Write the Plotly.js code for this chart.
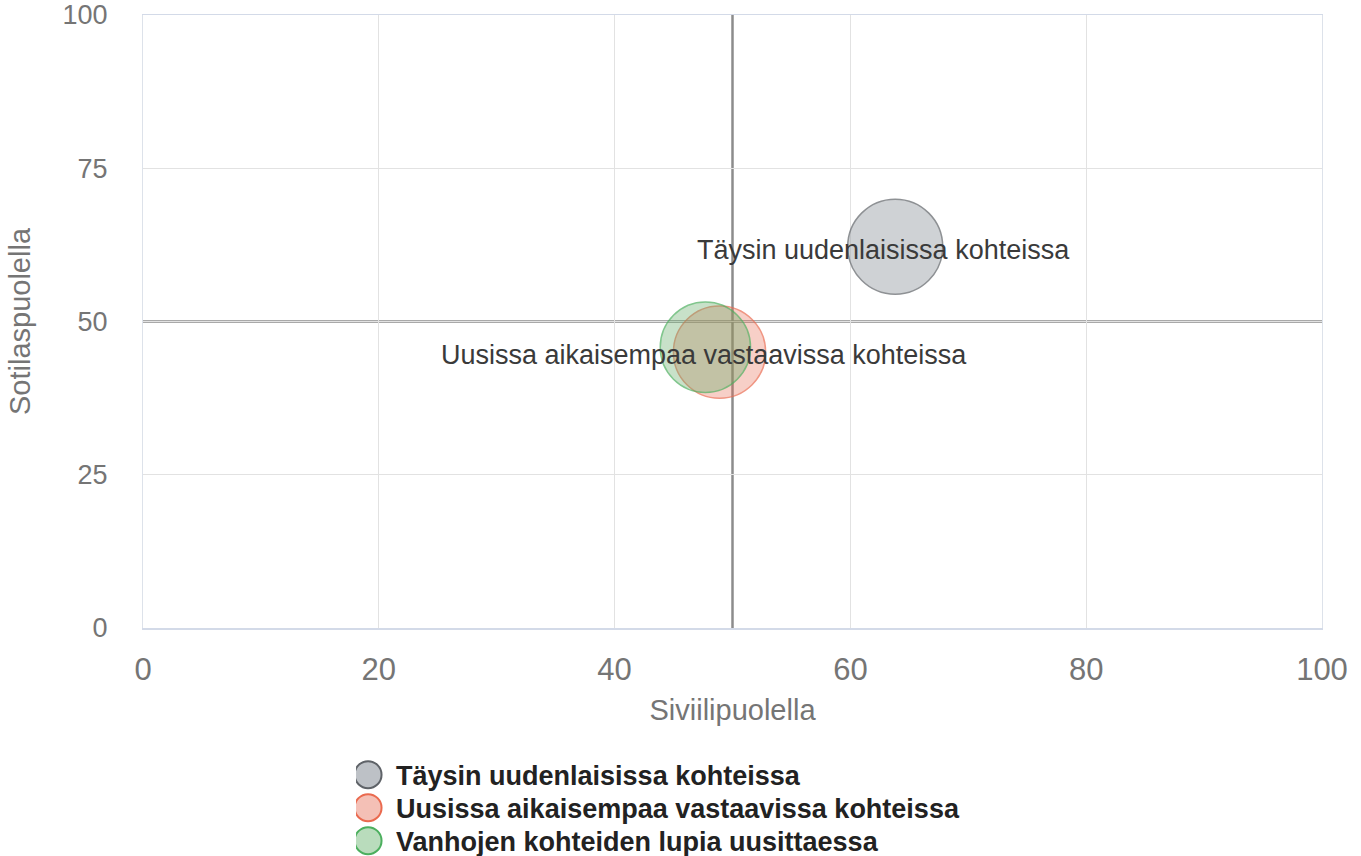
<!DOCTYPE html>
<html>
<head>
<meta charset="utf-8">
<script src="https://cdn.plot.ly/plotly-3.0.1.min.js"></script>
<style>html,body{margin:0;padding:0;background:#fff;}#chart{width:1361px;height:856px;}</style>
</head>
<body>
<div id="chart"></div>
<script>
// Data
const seriesNames = ["Täysin uudenlaisissa kohteissa", "Uusissa aikaisempaa vastaavissa kohteissa", "Vanhojen kohteiden lupia uusittaessa"];
const siviili = [63.8, 48.9, 47.7];    // x: Siviilipuolella
const sotilas = [62.2, 45.0, 45.8];    // y: Sotilaspuolella
const bubbleSize = [10, 9.7, 9.5];
const pointLabels = ["Täysin uudenlaisissa kohteissa", "Uusissa aikaisempaa vastaavissa kohteissa", ""];
const xTicks = [0, 20, 40, 60, 80, 100];
const yTicks = [0, 25, 50, 75, 100];
const midX = 50, midY = 50;

// Styles
const fills = ["rgba(150,156,162,0.64)", "rgba(232,104,80,0.45)", "rgba(100,172,104,0.5)"];
const borders = ["#5f6368", "#ea6a4f", "#4caf5e"];
const legendFills = ["#bdc1c6", "#f4c0b6", "#b9dcbc"];
const labelXShift = [-12, -16, 0];
const FONT = "Liberation Sans, Arial, sans-serif";
const LEGEND_ROW = 33;

const traces = seriesNames.map((name, i) => ({
  type: "scatter",
  mode: "markers",
  name: name,
  x: [siviili[i]],
  y: [sotilas[i]],
  marker: {
    size: [bubbleSize[i]],
    sizemode: "diameter",
    sizeref: 10 / 95,
    color: fills[i],
    line: {color: borders[i], width: 1.5}
  },
  hoverinfo: "x+y+name"
}));

const annotations = pointLabels.map((t, i) => ({
  x: siviili[i], y: sotilas[i], xref: "x", yref: "y",
  text: t, showarrow: false,
  xanchor: "center", yanchor: "middle",
  xshift: labelXShift[i], yshift: -3,
  font: {family: FONT, size: 27, color: "#3a3a3a"}
})).filter(a => a.text);

const layout = {
  width: 1361,
  height: 856,
  margin: {l: 143, r: 39, t: 15, b: 228, autoexpand: false},
  paper_bgcolor: "#fff",
  plot_bgcolor: "#fff",
  font: {family: FONT, color: "#757575"},
  showlegend: true,
  legend: {
    orientation: "v",
    x: 0.1807, xanchor: "left",
    y: -0.2, yanchor: "top",
    font: {family: FONT, size: 27, color: "#222", weight: "bold"},
    itemsizing: "constant",
    tracegroupgap: 0,
    bgcolor: "rgba(0,0,0,0)"
  },
  xaxis: {
    range: [0, 100],
    tickvals: xTicks,
    ticktext: xTicks.map(String),
    tickfont: {size: 31, color: "#757575"},
    ticklabelstandoff: 13,
    showgrid: true,
    gridcolor: "#e2e2e2",
    gridwidth: 1,
    zeroline: false,
    showline: true,
    mirror: true,
    linecolor: "#d3dae8",
    linewidth: 1.5,
    automargin: false,
    fixedrange: true,
    title: {text: "Siviilipuolella", font: {size: 29, color: "#757575"}, standoff: 14}
  },
  yaxis: {
    range: [0, 100],
    tickvals: yTicks,
    ticktext: yTicks.map(String),
    tickfont: {size: 27, color: "#757575"},
    ticklabelstandoff: 29,
    showgrid: true,
    gridcolor: "#e2e2e2",
    gridwidth: 1,
    zeroline: false,
    showline: true,
    mirror: true,
    linecolor: "#dde2ea",
    linewidth: 1,
    automargin: false,
    fixedrange: true,
    title: {text: "Sotilaspuolella", font: {size: 29, color: "#757575"}, standoff: 23}
  },
  annotations: annotations,
  shapes: [
    {type: "line", xref: "x", yref: "paper", x0: midX, x1: midX, y0: 0, y1: 1, line: {color: "#8c8c8c", width: 2.5}, layer: "below"},
    {type: "line", xref: "paper", yref: "y", x0: 0, x1: 1, y0: midY, y1: midY, line: {color: "#8c8c8c", width: 2.5}, layer: "below"}
  ]
};

Plotly.newPlot("chart", traces, layout, {displayModeBar: false, staticPlot: true}).then(() => {
  // larger legend symbols like the reference
  const r = 13.5;
  document.querySelectorAll(".legend path.scatterpts").forEach((p, i) => {
    p.setAttribute("d", `M${r},0A${r},${r} 0 1,1 0,-${r}A${r},${r} 0 0,1 ${r},0Z`);
    p.setAttribute("transform", "translate(12,0)");
    p.style.fill = legendFills[i % legendFills.length];
    p.style.fillOpacity = 1;
    p.style.opacity = 1;
    p.style.strokeWidth = "2px";
  });
  // tighter legend row spacing like the reference
  const rows = document.querySelectorAll(".legend g.traces");
  if (rows.length) {
    const m = /translate\(\s*([-\d.]+)[ ,]+([-\d.]+)\)/.exec(rows[0].getAttribute("transform") || "");
    if (m) {
      const x0 = parseFloat(m[1]), y0 = parseFloat(m[2]);
      rows.forEach((g, i) => g.setAttribute("transform", `translate(${x0},${y0 + i * LEGEND_ROW})`));
    }
  }
});
</script>
</body>
</html>
